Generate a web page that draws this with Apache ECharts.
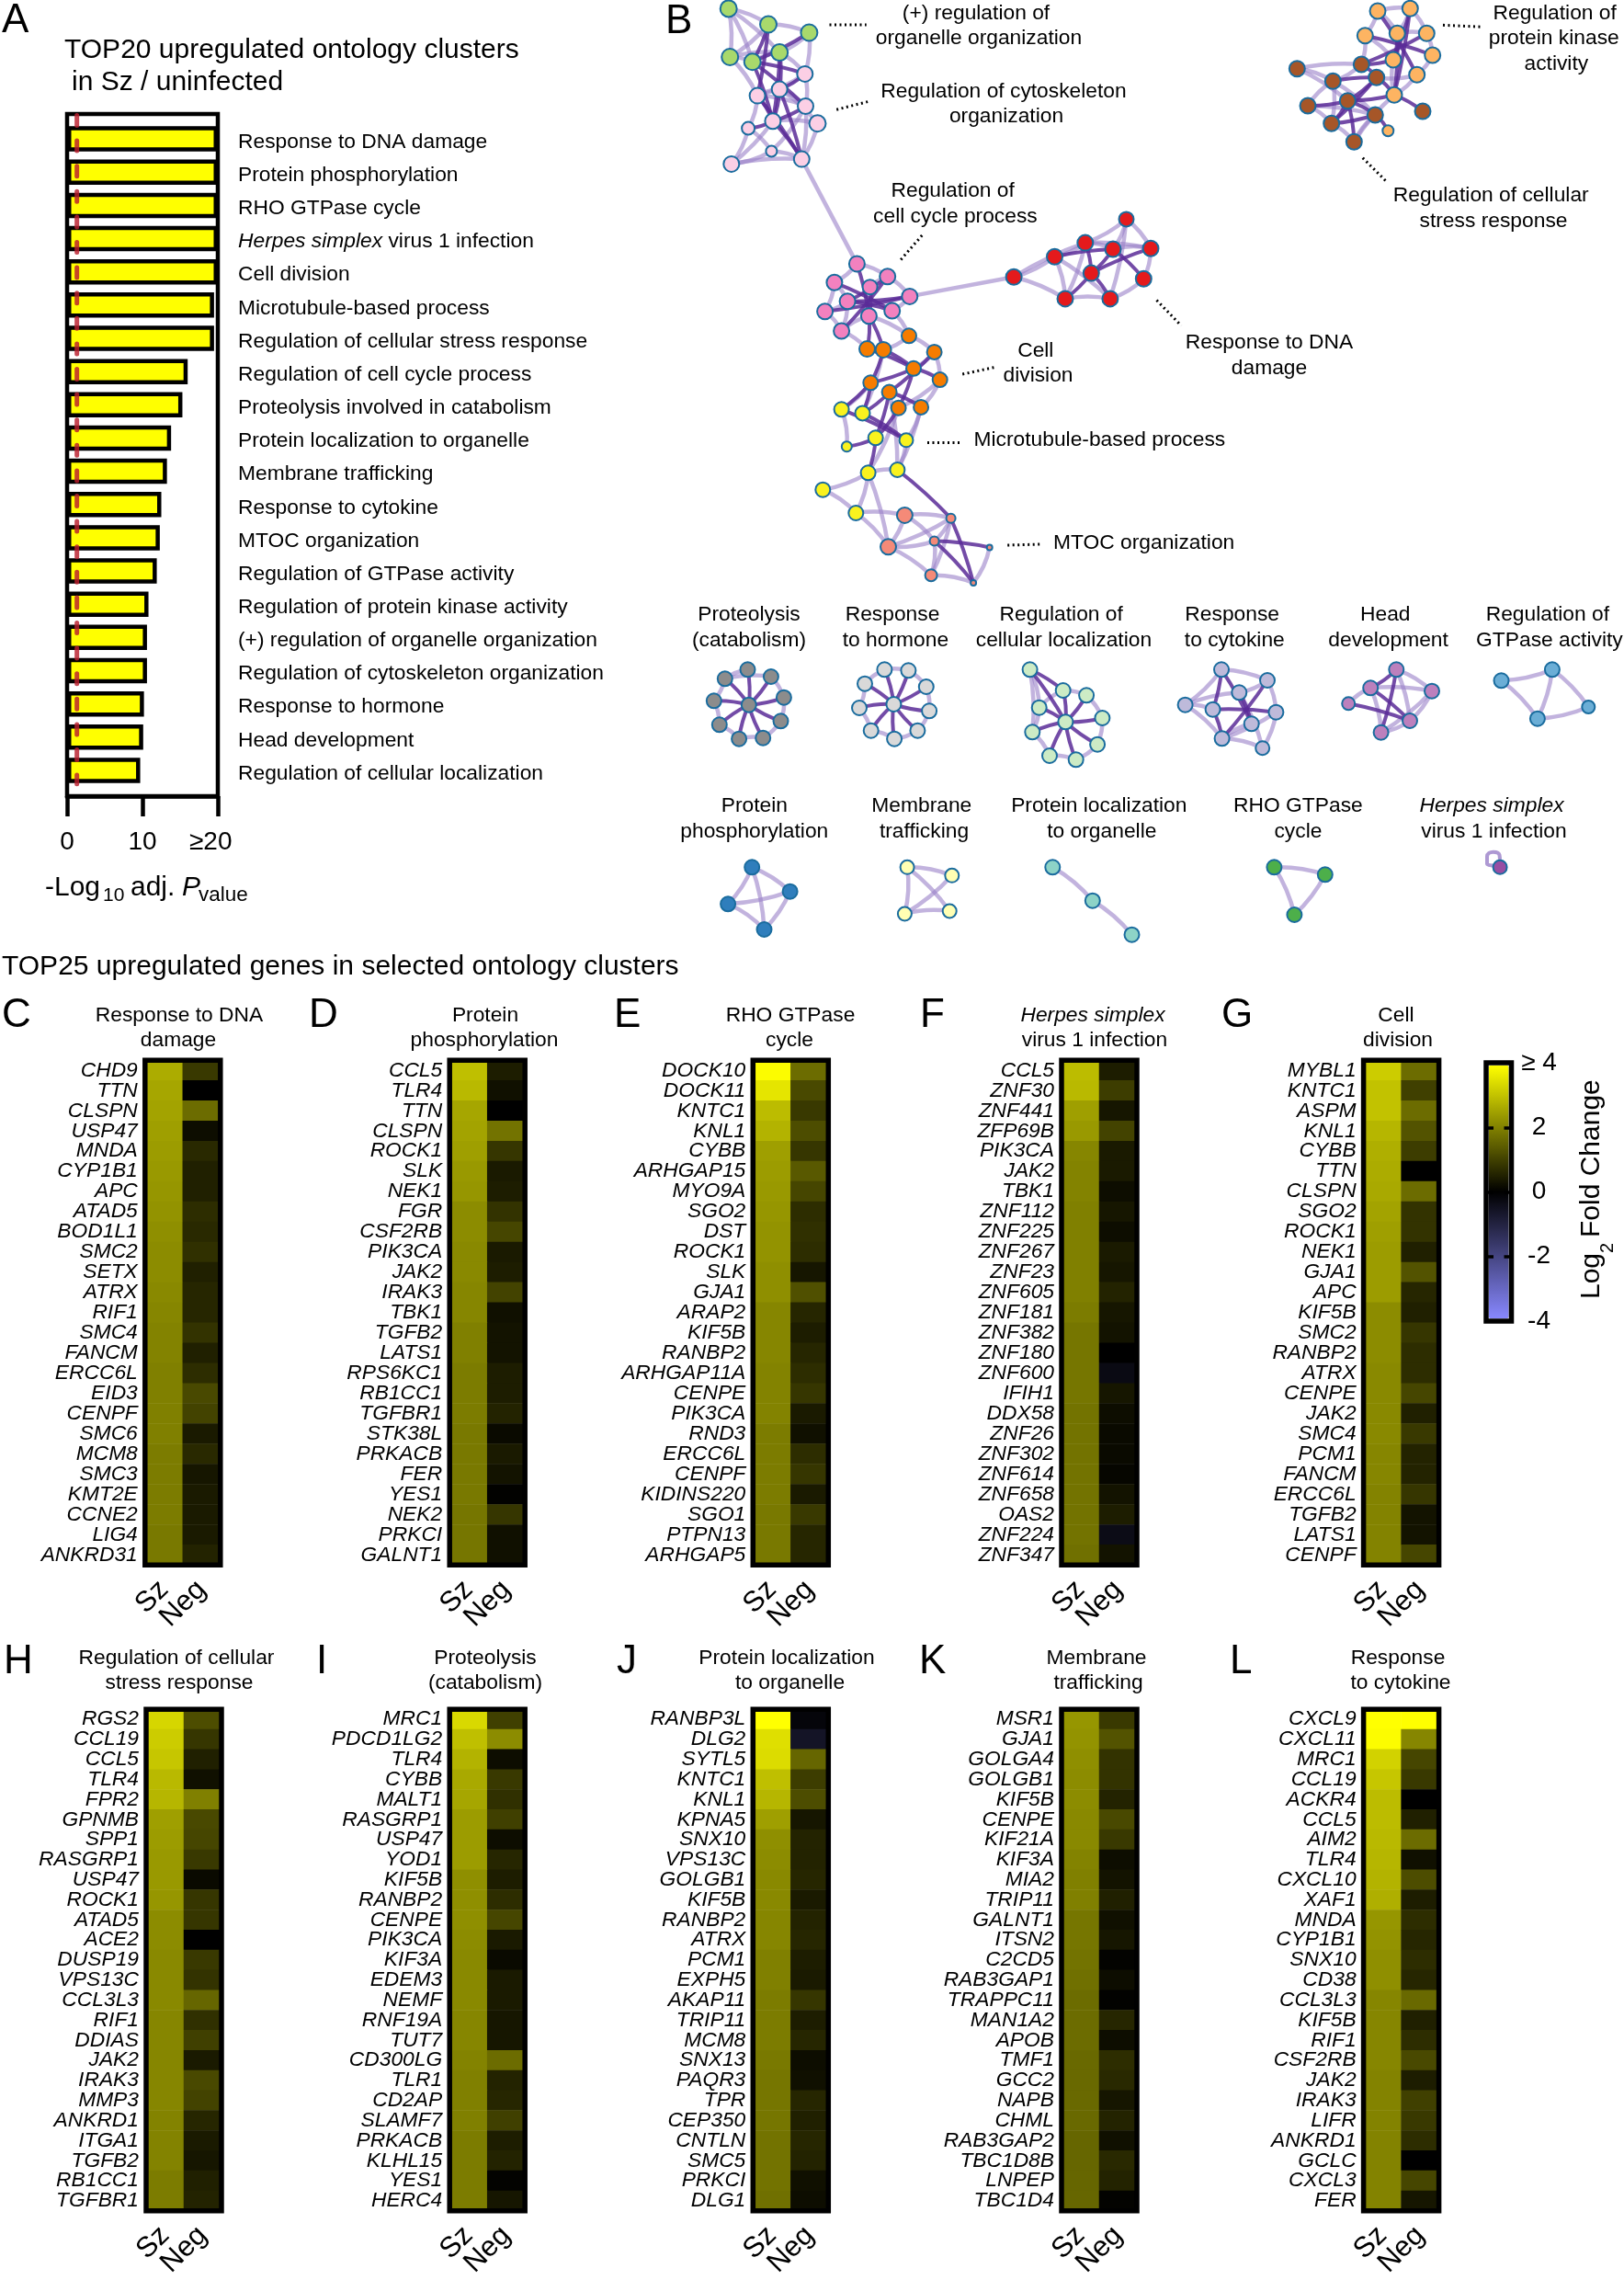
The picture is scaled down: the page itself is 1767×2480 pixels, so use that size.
<!DOCTYPE html>
<html><head><meta charset="utf-8">
<style>html,body{margin:0;padding:0;background:#fff}#c{width:1767px;height:2480px}</style>
<script src="https://cdn.jsdelivr.net/npm/echarts@6/dist/echarts.min.js"></script>
</head><body><div id="c"></div>
<script>
// ---------- Panel A ----------
const ontologyLabels=['Response to DNA damage','Protein phosphorylation','RHO GTPase cycle','{i|Herpes simplex} virus 1 infection','Cell division','Microtubule-based process','Regulation of cellular stress response','Regulation of cell cycle process','Proteolysis involved in catabolism','Protein localization to organelle','Membrane trafficking','Response to cytokine','MTOC organization','Regulation of GTPase activity','Regulation of protein kinase activity','(+) regulation of organelle organization','Regulation of cytoskeleton organization','Response to hormone','Head development','Regulation of cellular localization'];
const ontologyValues=[20,20,20,20,20,19.5,19.5,16,15.3,13.8,13.25,12.5,12.3,11.9,10.8,10.6,10.6,10.2,10.1,9.7];
const significanceLine=1.3;
// ---------- Panels C-L ----------
const genesC=['CHD9','TTN','CLSPN','USP47','MNDA','CYP1B1','APC','ATAD5','BOD1L1','SMC2','SETX','ATRX','RIF1','SMC4','FANCM','ERCC6L','EID3','CENPF','SMC6','MCM8','SMC3','KMT2E','CCNE2','LIG4','ANKRD31'];
const szC=[2.7,2.6,2.55,2.5,2.45,2.4,2.35,2.3,2.25,2.2,2.2,2.15,2.1,2.05,2.05,2,2,2,2,1.95,1.95,1.95,1.95,1.9,1.9];
const negC=[.9,0,1.7,.2,.65,.5,.5,.7,.65,.75,.5,.6,.6,.8,.5,.7,1.15,1.05,.4,.65,.35,.4,.4,.4,.55];
const genesD=['CCL5','TLR4','TTN','CLSPN','ROCK1','SLK','NEK1','FGR','CSF2RB','PIK3CA','JAK2','IRAK3','TBK1','TGFB2','LATS1','RPS6KC1','RB1CC1','TGFBR1','STK38L','PRKACB','FER','YES1','NEK2','PRKCI','GALNT1'];
const szD=[3,2.9,2.6,2.55,2.5,2.4,2.35,2.2,2.2,2.15,2.15,2.1,2.1,2,2,1.95,1.95,1.95,1.9,1.9,1.9,1.9,1.85,1.85,1.85];
const negD=[.45,.25,0,1.8,.85,.4,.45,.8,1.1,.4,.45,1.05,.25,.3,.3,.45,.45,.55,.15,.4,.3,.03,.85,.25,.25];
const genesE=['DOCK10','DOCK11','KNTC1','KNL1','CYBB','ARHGAP15','MYO9A','SGO2','DST','ROCK1','SLK','GJA1','ARAP2','KIF5B','RANBP2','ARHGAP11A','CENPE','PIK3CA','RND3','ERCC6L','CENPF','KIDINS220','SGO1','PTPN13','ARHGAP5'];
const szE=[3.95,3.6,2.95,2.8,2.5,2.45,2.4,2.35,2.3,2.3,2.25,2.25,2.1,2.1,2.1,2.05,2.05,2.05,1.95,1.95,1.95,1.95,1.9,1.9,1.9];
const negE=[1.7,1.15,.9,1.2,.85,1.4,1.1,.7,.75,.7,.35,1.25,.6,.45,.6,.7,.85,.4,.25,.7,.85,.4,.9,.6,.6];
const genesF=['CCL5','ZNF30','ZNF441','ZFP69B','PIK3CA','JAK2','TBK1','ZNF112','ZNF225','ZNF267','ZNF23','ZNF605','ZNF181','ZNF382','ZNF180','ZNF600','IFIH1','DDX58','ZNF26','ZNF302','ZNF614','ZNF658','OAS2','ZNF224','ZNF347'];
const szF=[2.95,2.9,2.5,2.4,2.1,2.05,2.05,2,2,2,2,2,1.95,1.85,1.85,1.85,1.85,1.8,1.8,1.8,1.8,1.8,1.8,1.8,1.75];
const negF=[.45,.95,.35,1.05,.4,.4,.2,.35,.2,.4,.35,.55,.35,.3,0,-.3,.35,.2,.15,.15,.1,.3,.45,-.35,.3];
const genesG=['MYBL1','KNTC1','ASPM','KNL1','CYBB','TTN','CLSPN','SGO2','ROCK1','NEK1','GJA1','APC','KIF5B','SMC2','RANBP2','ATRX','CENPE','JAK2','SMC4','PCM1','FANCM','ERCC6L','TGFB2','LATS1','CENPF'];
const szG=[3.2,3.05,3.05,2.85,2.75,2.7,2.65,2.55,2.5,2.45,2.45,2.45,2.2,2.2,2.2,2.15,2.15,2.15,2.15,2.1,2.1,2.05,2.05,2.05,2.05];
const negG=[1.7,1,1.7,1.3,.95,0,1.7,.8,.8,.5,1.3,.6,.5,.85,.7,.7,1.1,.5,.9,.55,.55,.85,.3,.3,1.1];
const genesH=['RGS2','CCL19','CCL5','TLR4','FPR2','GPNMB','SPP1','RASGRP1','USP47','ROCK1','ATAD5','ACE2','DUSP19','VPS13C','CCL3L3','RIF1','DDIAS','JAK2','IRAK3','MMP3','ANKRD1','ITGA1','TGFB2','RB1CC1','TGFBR1'];
const szH=[3.35,3.2,3.1,2.9,2.85,2.5,2.45,2.4,2.4,2.35,2.2,2.2,2.15,2.15,2.15,2.1,2.1,2.1,2.1,2.1,2.05,2.05,2.05,1.95,1.95];
const negH=[1.2,.85,.5,.25,2,1.15,1.1,.9,.15,.85,.85,0,.9,.8,1.6,.75,1,.4,1.15,1.05,.6,.4,.35,.5,.55];
const genesI=['MRC1','PDCD1LG2','TLR4','CYBB','MALT1','RASGRP1','USP47','YOD1','KIF5B','RANBP2','CENPE','PIK3CA','KIF3A','EDEM3','NEMF','RNF19A','TUT7','CD300LG','TLR1','CD2AP','SLAMF7','PRKACB','KLHL15','YES1','HERC4'];
const szI=[3.4,3,2.8,2.65,2.6,2.45,2.45,2.45,2.25,2.25,2.25,2.2,2.15,2.15,2.15,2.1,2.1,2.05,2,2,2,1.95,1.95,1.95,1.95];
const negI=[1,2.2,.2,.9,.75,1,.2,.6,.45,.7,1.1,.4,.15,.4,.4,.35,.35,1.7,.55,.6,1,.45,.55,.05,.35];
const genesJ=['RANBP3L','DLG2','SYTL5','KNTC1','KNL1','KPNA5','SNX10','VPS13C','GOLGB1','KIF5B','RANBP2','ATRX','PCM1','EXPH5','AKAP11','TRIP11','MCM8','SNX13','PAQR3','TPR','CEP350','CNTLN','SMC5','PRKCI','DLG1'];
const szJ=[4,3.5,3.45,3,2.85,2.5,2.25,2.2,2.15,2.15,2.1,2.1,2,2,1.95,1.95,1.95,1.9,1.85,1.85,1.85,1.8,1.8,1.8,1.75];
const negJ=[-.15,-.6,1.6,.95,1.2,.35,.55,.55,.6,.4,.55,.6,.45,.4,.85,.45,.6,.2,.25,.6,.5,.6,.55,.25,.2];
const genesK=['MSR1','GJA1','GOLGA4','GOLGB1','KIF5B','CENPE','KIF21A','KIF3A','MIA2','TRIP11','GALNT1','ITSN2','C2CD5','RAB3GAP1','TRAPPC11','MAN1A2','APOB','TMF1','GCC2','NAPB','CHML','RAB3GAP2','TBC1D8B','LNPEP','TBC1D4'];
const szK=[2.35,2.3,2.25,2.2,2.2,2.15,2.15,2.05,2,2,1.85,1.85,1.8,1.75,1.7,1.7,1.7,1.65,1.65,1.65,1.65,1.6,1.6,1.6,1.6];
const negK=[.9,1.3,.8,.8,.55,1.15,.9,.2,.3,.5,.25,.35,.05,.2,.03,.6,.2,.7,.65,.35,.55,.25,.65,.55,.05];
const genesL=['CXCL9','CXCL11','MRC1','CCL19','ACKR4','CCL5','AIM2','TLR4','CXCL10','XAF1','MNDA','CYP1B1','SNX10','CD38','CCL3L3','KIF5B','RIF1','CSF2RB','JAK2','IRAK3','LIFR','ANKRD1','GCLC','CXCL3','FER'];
const szL=[4,3.95,3.3,3.1,2.95,2.95,2.9,2.85,2.8,2.75,2.35,2.3,2.25,2.25,2.1,2.1,2.1,2.1,2.05,2.05,2.05,2.05,2.05,2.05,2.05];
const negL=[4,2.1,1.1,.9,0,.5,1.7,.25,1.2,.45,.7,.6,.7,.6,1.65,.5,.7,1.15,.45,1,.9,.7,0,1.1,.35];
const conditions=['Sz','Neg'];
const colorTicks=[-4,-2,0,2,4];
// ---------- Panel B network: node [x, y, size] ----------
const netG=[[792.7,9.4,18],[836,26.5,18],[880.4,35.5,18],[794.2,62,18],[818.7,67.3,18],[848.2,57.1,18]];
const netP=[[875.8,80.4,17],[824.1,104.1,17],[848.2,97.1,17],[876.5,115.5,17],[840.9,131.8,17],[889.5,134.3,18],[814.1,139.6,14],[839.4,164.5,12],[795.8,178.4,17],[872.3,173.1,17]];
const netH=[[932.4,286.9,17],[907.9,307.3,17],[965.7,300.8,17],[946.6,312.2,16],[989.8,322.4,17],[922.1,327.8,17],[897.6,338.8,17],[970.7,338,17],[945.4,343.7,17],[915.6,360,17]];
const netR=[[1225.5,238.4,16],[1180.8,264.1,17],[1211,271,17],[1252,270.2,17],[1147.5,279.2,17],[1187.3,297.1,17],[1103.1,301.2,17],[1244.3,303.3,17],[1159,324.9,17],[1207.9,324.9,17]];
const netO=[[989,365.3,16],[943.5,379.6,17],[961.1,380.4,17],[1016.6,382.9,16],[994,400.8,16],[1022.7,413.1,16],[947.3,416.3,16],[967.6,426.5,16],[977.6,443.7,16],[1002.1,442.9,16]];
const netY=[[915.6,445.3,16],[938.5,449.4,16],[952.7,476.3,16],[986,478.8,15],[921.3,485.7,11],[944.6,514.3,16],[976.4,511,16],[895.3,532.7,16],[931.3,558,16]];
const netS=[[984.4,560.4,17],[1034.6,563.7,10],[1016.6,588.6,10],[966.5,594.7,17],[1076.7,595.5,6],[1013.1,625.7,13],[1059.1,633.9,6]];
const netA=[[1499,12,17],[1534.3,9.3,17],[1485.3,38.7,17],[1520.3,36.3,17],[1552.3,36.3,17],[1558.7,60,17],[1516,65,17],[1541.7,81.3,17],[1517,103.3,17],[1510.3,142.3,12]];
const netB=[[1411.3,74.7,17],[1481.3,70,17],[1450.3,88.3,17],[1497.7,84.3,17],[1466.3,109.7,17],[1423,115,17],[1496.3,125,17],[1448.7,134.3,17],[1548,121,17],[1473.3,154.3,17]];
const netT=[[813.5,728.3,16],[788.8,738.3,16],[838.9,736,16],[776.8,762.3,16],[852.9,758.7,16],[814.8,766.7,16],[782.8,788.3,16],[849.5,784.3,16],[804.1,803.7,16],[830.2,802.7,16]];
const netM=[[962.4,728.3,16],[988.4,729.3,16],[941,743.7,16],[1007.8,747,16],[972.4,766,16],[935,770,16],[1011.1,773.3,16],[947.7,794.7,16],[998.4,794.7,16],[973.1,803.7,16]];
const netC=[[1120.6,728.3,16],[1156.7,751,16],[1182.1,756.3,16],[1130.7,769.7,16],[1199.4,781,16],[1159.4,785.3,16],[1123.3,796.3,16],[1194.1,809.7,16],[1142,822,16],[1170.7,826.3,16]];
const netV=[[1329,728.3,16],[1379,740,16],[1348.3,753.3,16],[1289.6,766.7,16],[1319.6,771.7,16],[1388.4,774.7,16],[1361.7,787.3,16],[1329.6,803.3,16],[1373.7,813.7,15]];
const netD=[[1519.3,728.3,16],[1491.2,748.3,16],[1558,751.7,16],[1467.2,765.3,14],[1534,784,16],[1502.6,796.7,16]];
const netU=[[1688.9,728.3,16],[1633.5,740.3,16],[1728.3,769,14],[1672.9,781.7,16]];
const netW=[[818.2,943.3,16],[859.6,969.7,16],[792.1,983.3,16],[831.5,1011,16]];
const netE=[[987.1,943.3,15],[1035.8,952.3,15],[984.4,994,15],[1033.2,991,15]];
const netL=[[1145.3,943.3,16],[1188.8,979.7,16],[1231.5,1016.7,16]];
const netK=[[1386.4,943.3,16],[1441.8,951.3,16],[1408.4,995,16]];
const netX=[[1632.1,943.3,15]];
const herpesLoop=[[1629.4,941.7],[1618,940],[1618,931.7],[1624.8,926.7],[1631.5,930],[1632,936.7]];
const netColors={G:'#a8d96c',P:'#fbcfe5',H:'#f281bf',R:'#e41a1c',O:'#f57c00',Y:'#f9f21e',S:'#f58a78',A:'#fdb462',B:'#a65628',T:'#8c8c8c',M:'#d9d9d9',C:'#ccebc5',V:'#bebada',D:'#bc80bd',U:'#6baed6',W:'#2f7ebc',E:'#ffffb3',L:'#8dd3c7',K:'#4daf4a',X:'#984ea3'};
const lightEdges='G0 G1,G0 G3,G0 G4,G0 G5,G1 G2,G1 G3,G2 P0,G2 G5,G3 G4,G3 G5,G3 P1,G4 G5,G5 P0,P0 P3,P0 P1,P1 P6,P1 P3,P2 P3,P2 P5,P3 P7,P3 P9,P4 P5,P4 P8,P6 P8,P6 P7,P7 P8,P7 P9,P8 P9,P5 P9,P1 P2,P9 H0,H4 R6,H0 H1,H0 H2,H1 H6,H6 H9,H2 H4,H4 H7,H9 H8,H8 O0,H9 O1,H7 O0,H1 H5,H5 H6,H5 H9,H3 H2,O0 O3,O3 O5,O0 O2,O5 O9,O9 Y3,O6 Y0,Y0 Y4,Y3 Y6,Y5 Y6,Y5 Y7,Y7 Y8,Y5 Y8,Y5 S3,Y8 S0,Y8 S3,S0 S3,S0 S1,S0 S2,S1 S2,S1 S3,S2 S3,S1 S5,S2 S5,S3 S5,S4 S6,S5 S6,O2 Y1,O7 Y6,O8 Y5,O9 Y6,O3 O4,O5 O8,R0 R1,R0 R3,R0 R2,R1 R4,R1 R2,R2 R3,R3 R7,R4 R6,R6 R8,R8 R9,R7 R9,R1 R3,R6 R1,R0 R9,R4 R8,R4 R9,R1 R8,A0 A1,A0 A2,A1 A4,A4 A5,A5 A7,A2 B1,A0 A3,A1 A3,A3 A4,A7 A8,B0 B1,B0 B2,B0 B4,B2 B7,B5 B7,B7 B9,B5 B6,B9 A8,B2 B6,A8 A6,B1 B2,A2 A6,B5 B2,B9 B6,A7 B3,T1 T2,T3 T6,T6 T8,T8 T9,T7 T9,T4 T7,T2 T4,T1 T3,T1 T0,M0 M1,M2 M0,M5 M7,M7 M9,M3 M6,M6 M8,M2 M5,M1 M3,M8 M9,C0 C3,C0 C6,C1 C2,C3 C6,C6 C8,C8 C9,C7 C9,C4 C7,C2 C4,C3 C1,V0 V1,V0 V3,V3 V2,V3 V4,V3 V7,V1 V5,V5 V8,V7 V8,V5 V7,V2 V8,V1 V2,V7 V6,D0 D2,D1 D2,D2 D4,D1 D5,D3 D1,D2 D5,D4 D5,D0 D4,U0 U1,U1 U3,U0 U3,U0 U2,U2 U3,W0 W1,W0 W2,W0 W3,W1 W2,W1 W3,W2 W3,E0 E1,E0 E2,E0 E3,E1 E2,E2 E3,L0 L1,L1 L2,K0 K1,K0 K2,K1 K2';
const darkEdges='G1 G4,G1 P1,G5 P2,G5 P4,G4 P3,G4 P4,G2 G4,G4 P0,P0 P2,P1 P4,P2 P4,P2 P9,P4 P6,P4 P9,P3 P4,P1 P9,H0 H8,H1 H7,H2 H5,H3 H8,H4 H6,H5 H7,H2 H9,H4 H5,H8 O2,H8 O1,O1 O4,O2 O4,O2 O6,O4 O6,O4 O5,O3 O7,O7 O9,O6 Y1,O6 Y0,O7 Y1,O7 Y2,O4 O8,O8 Y2,Y1 Y3,Y0 Y3,Y2 Y4,Y2 Y5,Y6 S1,S2 S4,S1 S6,S2 S6,R4 R2,R1 R5,R5 R8,R5 R3,R2 R7,R5 R9,R2 R5,A0 A7,A1 A6,A2 A5,A3 A8,A4 B1,A6 B1,A3 A6,A1 A8,B2 B3,B4 B5,B4 B6,B1 B3,B3 B4,B3 B7,B4 B7,B4 B9,B6 A9,A8 B8,A8 B4,B3 A8,B6 B7,T0 T5,T1 T5,T2 T5,T3 T5,T4 T5,T6 T5,T7 T5,T8 T5,T9 T5,M0 M4,M1 M4,M2 M4,M3 M4,M5 M4,M6 M4,M7 M4,M8 M4,M9 M4,C1 C5,C2 C5,C3 C5,C4 C5,C6 C5,C7 C5,C8 C5,C9 C5,C0 C1,C0 C5,V4 V5,V0 V4,V0 V6,V1 V7,V2 V6,V4 V7,D3 D4,D0 D1,D1 D4,D0 D5';

// ---------- build ----------
const FF='"Liberation Sans",Arial,sans-serif';
const G=[],X=[],Y=[],S=[],heatIdx=[];
G.push({left:0,top:0,width:1767,height:2480});
X.push({type:'value',gridIndex:0,min:0,max:1767,show:false});
Y.push({type:'value',gridIndex:0,min:0,max:2480,inverse:true,show:false});
const nets={G:netG,P:netP,H:netH,R:netR,O:netO,Y:netY,S:netS,A:netA,B:netB,T:netT,M:netM,C:netC,V:netV,D:netD,U:netU,W:netW,E:netE,L:netL,K:netK,X:netX};
const nodes=[],pos={};
Object.keys(nets).forEach(k=>nets[k].forEach((n,i)=>{pos[k+i]=n;nodes.push({name:k+i,value:[n[0],n[1]],symbolSize:n[2],itemStyle:{color:netColors[k],borderColor:'#1a6c9e',borderWidth:2}});}));
const link=(str,style,bulge)=>str.split(',').map(e=>{const [a,b]=e.split(' ');const len=Math.hypot(pos[a][0]-pos[b][0],pos[a][1]-pos[b][1]);return {source:a,target:b,lineStyle:Object.assign({},style,{curveness:len>110?0:Math.min(.12,bulge/len)})};});
const links=[...link(lightEdges,{color:'#9a80c8',width:4.5,opacity:.6},5),...link(darkEdges,{color:'#5a2b98',width:4,opacity:.85},3)];
S.push({type:'graph',coordinateSystem:'cartesian2d',xAxisIndex:0,yAxisIndex:0,layout:'none',roam:false,silent:true,label:{show:false},data:nodes,links,z:3});
S.push({type:'line',xAxisIndex:0,yAxisIndex:0,data:herpesLoop,smooth:true,showSymbol:false,silent:true,lineStyle:{color:'#9a80c8',width:4,opacity:.8},z:2});

// Panel A frame grid
G.push({left:73,top:124,width:164,height:742,show:true,borderColor:'#000',borderWidth:4.5,z:5});
X.push({type:'value',gridIndex:1,min:0,max:20,interval:10,splitLine:{show:false},axisLine:{show:true,lineStyle:{color:'#000',width:4.5}},axisTick:{show:true,length:22,lineStyle:{color:'#000',width:4.5}},axisLabel:{margin:36,fontFamily:FF,fontSize:28,color:'#000',formatter:v=>v===20?'≥20  ':String(v)}});
Y.push({type:'value',gridIndex:1,min:0,max:1,show:false});
// Panel A bars grid
G.push({left:73,top:133,width:164,height:723});
X.push({type:'value',gridIndex:2,min:0,max:20,show:false});
Y.push({type:'category',gridIndex:2,position:'right',inverse:true,data:ontologyLabels,axisLine:{show:false},axisTick:{show:true,alignWithLabel:true,length:10,lineStyle:{color:'#000',width:3.5}},axisLabel:{interval:0,margin:22,fontFamily:FF,fontSize:22.8,color:'#000',padding:[7,0,0,0],rich:{i:{fontStyle:'italic',fontFamily:FF,fontSize:22.8,color:'#000'}}}});
S.push({type:'bar',xAxisIndex:2,yAxisIndex:2,data:ontologyValues,barWidth:27.5,itemStyle:{color:'#ffff00',borderColor:'#000',borderWidth:4.5},z:3});
S.push({type:'line',xAxisIndex:1,yAxisIndex:1,data:[[significanceLine,.998],[significanceLine,.018]],showSymbol:false,silent:true,lineStyle:{color:'rgba(185,30,45,.82)',width:5,type:[11,16.6],cap:'round'},z:6});

// Heatmaps
const panels=[[genesC,szC,negC,157.8,1153.3],[genesD,szD,negD,489.2,1153.3],[genesE,szE,negE,819.3,1153.3],[genesF,szF,negF,1155,1153.3],[genesG,szG,negG,1483.6,1153.3],
[genesH,szH,negH,159,1859.2],[genesI,szI,negI,489.2,1859.2],[genesJ,szJ,negJ,819.3,1859.2],[genesK,szK,negK,1155,1859.2],[genesL,szL,negL,1483.6,1859.2]];
panels.forEach(([genes,sz,neg,left,top])=>{
  const gi=G.length;
  G.push({left,top,width:82,height:549,show:true,borderColor:'#000',borderWidth:5.5,z:5});
  X.push({type:'category',gridIndex:gi,data:conditions,axisLine:{show:false},axisTick:{show:false},axisLabel:{interval:0,rotate:45,margin:22,padding:[12,0,0,0],fontFamily:FF,fontSize:31,color:'#000'}});
  Y.push({type:'category',gridIndex:gi,inverse:true,data:genes,axisLine:{show:false},axisTick:{show:false},axisLabel:{interval:0,margin:8,padding:[7,0,0,0],fontFamily:FF,fontSize:22.8,fontStyle:'italic',color:'#000'}});
  const d=[];genes.forEach((g,i)=>{d.push([0,i,sz[i]]);d.push([1,i,neg[i]]);});
  heatIdx.push(S.length);
  S.push({type:'heatmap',xAxisIndex:gi,yAxisIndex:gi,data:d,silent:true,z:2});
});

// Colour bar axes
const cg=G.length;
G.push({left:1617,top:1156,width:27.5,height:281,show:true,borderColor:'#000',borderWidth:5.5,z:5});
X.push({type:'value',gridIndex:cg,show:false,min:0,max:1});
const tk={show:true,inside:true,length:8,lineStyle:{color:'#000',width:3.5}};
Y.push({type:'value',gridIndex:cg,position:'left',min:-4,max:4,interval:2,z:7,splitLine:{show:false},axisLine:{show:false},axisTick:tk,axisLabel:{show:false}});
Y.push({type:'value',gridIndex:cg,position:'right',min:-4,max:4,interval:2,z:7,splitLine:{show:false},axisLine:{show:false},axisTick:tk,axisLabel:{margin:30,align:'center',padding:[11,0,0,0],fontFamily:FF,fontSize:28,color:'#000',formatter:v=>v===4?'≥ 4':String(v)}});
S.push({type:'line',xAxisIndex:cg,yAxisIndex:cg,data:[],silent:true});
S.push({type:'line',xAxisIndex:cg,yAxisIndex:cg+1,data:[],silent:true});

// Text annotations
const E=[];
const t=(x,y,text,o={})=>E.push({type:'text',x,y:y+(o.rot?0:1),rotation:o.rot||0,z:20,silent:true,style:{text,x:0,y:0,fontFamily:FF,fontSize:o.fs||22.8,fontStyle:o.it?'italic':'normal',fill:'#000',align:o.al||'center',verticalAlign:'middle'}});
const dots=(a,b,c,d)=>E.push({type:'line',z:20,silent:true,shape:{x1:a,y1:b,x2:c,y2:d},style:{stroke:'#000',lineWidth:3,lineDash:[2,3.5]}});
[['A',2,22],['B',724,23],['C',2,1104],['D',336,1104],['E',668,1104],['F',1001,1104],['G',1329,1104],['H',4,1807],['I',344,1807],['J',671,1807],['K',1000,1807],['L',1338,1807]].forEach(a=>t(a[1],a[2],a[0],{fs:44,al:'left'}));
t(70,54,'TOP20 upregulated ontology clusters',{fs:30,al:'left'});
t(78,89,'in Sz / uninfected',{fs:30,al:'left'});
t(2,1051,'TOP25 upregulated genes in selected ontology clusters',{fs:30,al:'left'});
t(49,965,'-Log',{fs:30,al:'left'});t(112,973,'10',{fs:21,al:'left'});t(142,965,'adj.',{fs:30,al:'left'});t(198,965,'P',{fs:30,al:'left',it:1});t(216,973,'value',{fs:22.5,al:'left'});
// cluster labels B
[[1062,13.5,'(+) regulation of'],[1065,41,'organelle organization'],[1092,98.4,'Regulation of cytoskeleton'],[1095,125.7,'organization'],[1036.7,207,'Regulation of'],[1039.4,234.7,'cell cycle process'],[1381,372,'Response to DNA'],[1381,400,'damage'],[1126.8,380.4,'Cell'],[1129.5,408.2,'division'],[1691.7,13.3,'Regulation of'],[1690.8,40.7,'protein kinase'],[1693.3,68.3,'activity'],[1622.2,212,'Regulation of cellular'],[1625,240,'stress response'],
[815,668,'Proteolysis'],[815,695.7,'(catabolism)'],[971,668,'Response'],[974.4,695.7,'to hormone'],[1154.7,668,'Regulation of'],[1157.4,695.7,'cellular localization'],[1340.7,668,'Response'],[1343.3,695.7,'to cytokine'],[1507.3,668,'Head'],[1510.6,695.7,'development'],[1683.9,668,'Regulation of'],[1685.9,695.7,'GTPase activity'],
[820.8,876,'Protein'],[820.8,904,'phosphorylation'],[1002.8,876,'Membrane'],[1005.5,904,'trafficking'],[1195.8,876,'Protein localization'],[1198.8,904,'to organelle'],[1412.4,876,'RHO GTPase'],[1412.4,904,'cycle'],[1625.5,904,'virus 1 infection'],
// heatmap titles
[195,1103.5,'Response to DNA'],[194,1131,'damage'],[528,1103.5,'Protein'],[527,1131,'phosphorylation'],[860,1103.5,'RHO GTPase'],[859,1131,'cycle'],[1191,1131,'virus 1 infection'],[1519,1103.5,'Cell'],[1521,1131,'division'],
[192,1802.7,'Regulation of cellular'],[195,1830,'stress response'],[528,1802.7,'Proteolysis'],[528,1830,'(catabolism)'],[856,1802.7,'Protein localization'],[859.5,1830,'to organelle'],[1193,1802.7,'Membrane'],[1195,1830,'trafficking'],[1521,1802.7,'Response'],[1524,1830,'to cytokine']
].forEach(a=>t(a[0],a[1],a[2]));
t(1623,876,'Herpes simplex',{it:1});t(1189,1103.5,'Herpes simplex',{it:1});
t(1059.5,477.6,'Microtubule-based process',{al:'left'});t(1146,589.4,'MTOC organization',{al:'left'});
[[902.5,27,942.7,27],[910.2,119.2,945.8,110.2],[980.2,282.4,1005.1,253.9],[1258.5,326.5,1285.3,354.3],[1047.2,407,1083.6,399.2],[1009,481.6,1046,481.6],[1096.2,593,1133.3,592],[1570,27.3,1612.3,29.3],[1482.7,171.7,1509.3,198.3]].forEach(a=>dots(...a));
// colour bar title
t(1732,1413,'Log',{fs:30,al:'left',rot:Math.PI/2});t(1749,1363,'2',{fs:20,al:'left',rot:Math.PI/2});t(1732,1346,'Fold Change',{fs:30,al:'left',rot:Math.PI/2});

const chart=echarts.init(document.getElementById('c'),null,{renderer:'canvas',width:1767,height:2480});
chart.setOption({animation:false,backgroundColor:'#fff',textStyle:{fontFamily:FF},grid:G,xAxis:X,yAxis:Y,series:S,graphic:{elements:E},
 visualMap:{type:'continuous',seriesIndex:heatIdx,dimension:2,min:-4,max:4,left:1619.7,top:1158.7,itemWidth:22,itemHeight:275.5,padding:0,text:null,showLabel:false,calculable:false,hoverLink:false,realtime:false,inRange:{color:['#8888ff','#000000','#ffff00']},textStyle:{fontSize:0},z:2}});
</script></body></html>
